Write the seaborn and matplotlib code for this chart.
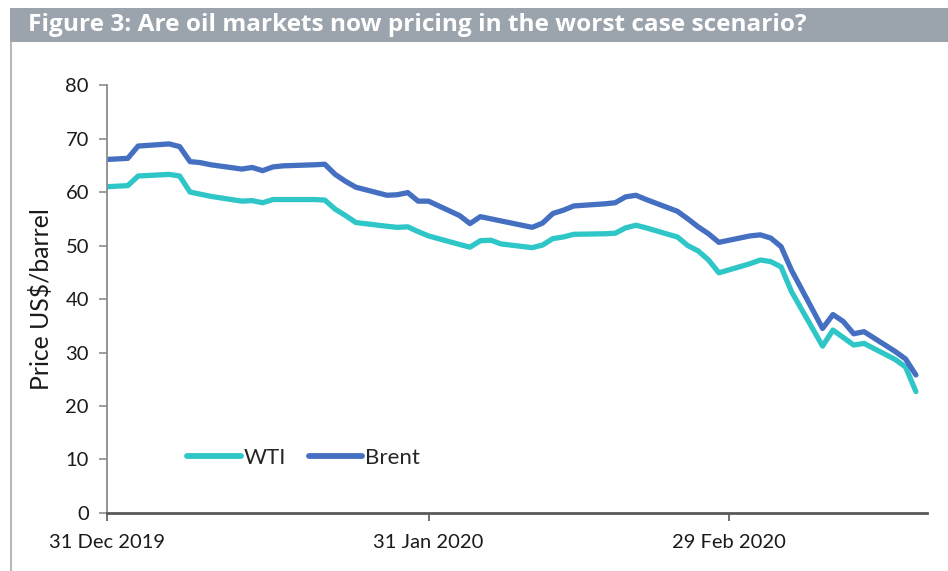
import pandas as pd
import seaborn as sns
import matplotlib.pyplot as plt
import matplotlib.dates as mdates
from matplotlib.patches import Rectangle
from matplotlib.lines import Line2D

# trading days 31 Dec 2019 - 18 Mar 2020 (New Year's Day left out)
dates = pd.bdate_range("2019-12-31", "2020-03-18")
dates = dates[dates != pd.Timestamp("2020-01-01")]

brent = [66.1, 66.3, 68.6, 69.0, 68.5, 65.7, 65.5, 65.1, 64.3, 64.6, 64.0, 64.7,
         64.9, 65.1, 65.2, 63.3, 62.0, 60.9, 59.4, 59.5, 59.9, 58.3, 58.3,
         55.6, 54.1, 55.4, 55.0, 54.6, 53.4, 54.2, 56.0, 56.6, 57.4, 57.8, 58.0,
         59.1, 59.4, 58.6, 56.4, 55.0, 53.5, 52.2, 50.6,
         51.8, 52.0, 51.4, 49.8, 45.4, 34.5, 37.1, 35.8, 33.5, 33.9, 30.2, 28.8, 25.8]
wti = [61.0, 61.2, 63.0, 63.3, 63.0, 60.0, 59.6, 59.2, 58.3, 58.4, 58.0, 58.6,
       58.6, 58.6, 58.5, 56.8, 55.6, 54.3, 53.6, 53.4, 53.5, 52.6, 51.8,
       50.2, 49.7, 50.9, 51.0, 50.3, 49.6, 50.1, 51.3, 51.6, 52.1, 52.2, 52.3,
       53.3, 53.8, 53.3, 51.6, 50.0, 49.0, 47.3, 44.9,
       46.6, 47.3, 47.0, 46.0, 41.4, 31.2, 34.2, 32.8, 31.4, 31.7, 28.7, 27.3, 22.7]

tick_dates = pd.to_datetime(["2019-12-31", "2020-01-31", "2020-02-29"])

df = pd.concat([
    pd.DataFrame({"date": dates, "price": wti, "series": "WTI"}),
    pd.DataFrame({"date": dates, "price": brent, "series": "Brent"}),
])

sns.set_theme(style="white")
plt.rcParams["font.family"] = ["Lato", "DejaVu Sans"]

fig = plt.figure(figsize=(9.48, 5.71), dpi=100)
ax = fig.add_axes([0.1129, 0.1016, 0.8651, 0.7494])

sns.lineplot(data=df, x="date", y="price", hue="series", hue_order=["WTI", "Brent"],
             palette={"WTI": "#2FC6C8", "Brent": "#4570C2"}, linewidth=3.8, ax=ax)

ax.set_ylim(0, 80)
ax.set_yticks(range(0, 81, 10))
ax.set_xlim(pd.Timestamp("2019-12-31"), pd.Timestamp("2020-03-19 02:00"))
ax.set_xticks(tick_dates)
ax.xaxis.set_major_formatter(mdates.DateFormatter("%d %b %Y"))
ax.set_xlabel("")
ax.set_ylabel("Price US$/barrel", fontsize=17.8, color="#1a1a1a", labelpad=9)

for s in ["top", "right"]:
    ax.spines[s].set_visible(False)
ax.spines["left"].set_color("#8c8c8c")
ax.spines["left"].set_linewidth(1.3)
ax.spines["bottom"].set_color("#595959")
ax.spines["bottom"].set_linewidth(2)
ax.tick_params(axis="y", which="major", left=True, length=6, width=1.2, color="#8c8c8c",
               labelsize=14.5, labelcolor="#1a1a1a", pad=7)
ax.tick_params(axis="x", which="major", bottom=True, length=6, width=1.2, color="#595959",
               labelsize=14.5, labelcolor="#1a1a1a", pad=9)

leg = ax.legend(loc="center", bbox_to_anchor=(0.24, 0.128), ncol=2, frameon=False,
                fontsize=16, handlelength=2.4, handletextpad=0.15, columnspacing=1.0)
for h in leg.get_lines():
    h.set_linewidth(4.2)
    h.set_solid_capstyle("round")

# title bar and frame line
fig.patches.append(Rectangle((0.0105, 0.9264), 0.9895, 0.0595, transform=fig.transFigure,
                             facecolor="#9BA3AC", edgecolor="none", zorder=0))
fig.lines.append(Line2D([0.0115, 0.0115], [0.0, 0.9264], transform=fig.transFigure,
                        color="#b8b8b8", linewidth=1.5))
fig.text(0.0295, 0.9565, "Figure 3: Are oil markets now pricing in the worst case scenario?",
         color="white", fontsize=17.6, fontweight="bold", va="center", ha="left",
         family=["Open Sans", "DejaVu Sans"])

fig.savefig("out.png", dpi=100)
